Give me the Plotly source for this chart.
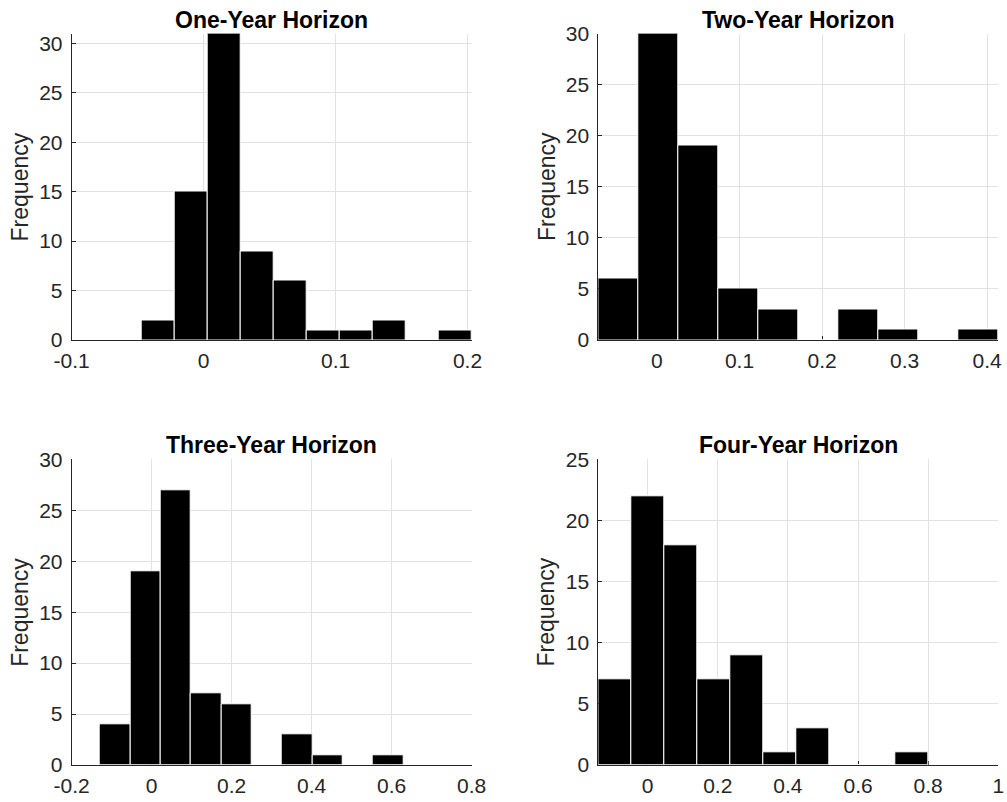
import plotly.graph_objects as go

# ---------------- data ----------------
titles = ["One-Year Horizon", "Two-Year Horizon", "Three-Year Horizon", "Four-Year Horizon"]

# bin edges (start, width) and counts for each horizon
h1_start, h1_width = -0.0468, 0.0250
h1_counts = [2, 15, 31, 9, 6, 1, 1, 2, 0, 1]

h2_start, h2_width = -0.0710, 0.04845
h2_counts = [6, 30, 19, 5, 3, 0, 3, 1, 0, 1]

h3_start, h3_width = -0.1292, 0.07584
h3_counts = [4, 19, 27, 7, 6, 0, 3, 1, 0, 1]

h4_start, h4_width = -0.1407, 0.09411
h4_counts = [7, 22, 18, 7, 9, 1, 3, 0, 0, 1]

x_ranges = [[-0.1, 0.2032], [-0.0710, 0.4135], [-0.2, 0.8], [-0.1407, 1.0]]
y_ranges = [[0, 31], [0, 30], [0, 30], [0, 25]]

x_tickvals = [[-0.1, 0, 0.1, 0.2], [0, 0.1, 0.2, 0.3, 0.4],
              [-0.2, 0, 0.2, 0.4, 0.6, 0.8], [0, 0.2, 0.4, 0.6, 0.8, 1.0]]
x_ticktext = [["-0.1", "0", "0.1", "0.2"], ["0", "0.1", "0.2", "0.3", "0.4"],
              ["-0.2", "0", "0.2", "0.4", "0.6", "0.8"], ["0", "0.2", "0.4", "0.6", "0.8", "1"]]
y_tickvals = [[0, 5, 10, 15, 20, 25, 30], [0, 5, 10, 15, 20, 25, 30],
              [0, 5, 10, 15, 20, 25, 30], [0, 5, 10, 15, 20, 25]]
y_label = "Frequency"

# ---------------- layout geometry ----------------
W, H = 1007, 802
col_px = [(71.7, 471.7), (598.3, 998.3)]
row_px = [(33.5, 340.0), (459.3, 765.0)]

FONT = "Liberation Sans, Arial, Helvetica, sans-serif"
AX = "#262626"
GRID = "#e2e2e2"

specs = [(h1_start, h1_width, h1_counts), (h2_start, h2_width, h2_counts),
         (h3_start, h3_width, h3_counts), (h4_start, h4_width, h4_counts)]

fig = go.Figure()
annotations = []
for i, (start, width, counts) in enumerate(specs):
    r, c = divmod(i, 2)
    xs = "" if i == 0 else str(i + 1)
    centers = [start + width * (k + 0.5) for k in range(len(counts))]
    fig.add_trace(go.Bar(
        x=centers, y=counts, width=[width] * len(counts),
        marker=dict(color="black", line=dict(color="white", width=1)),
        xaxis="x" + xs, yaxis="y" + xs, showlegend=False, hoverinfo="x+y",
    ))
    x0, x1 = col_px[c]
    y0, y1 = row_px[r]
    xdom = [x0 / W, x1 / W]
    ydom = [1 - y1 / H, 1 - y0 / H]
    common = dict(showline=True, linecolor=AX, linewidth=1, ticks="inside", ticklen=4,
                  tickcolor=AX, tickwidth=1, showgrid=True, gridcolor=GRID, gridwidth=1,
                  zeroline=False, layer="below traces", automargin=False,
                  tickfont=dict(family=FONT, size=21, color=AX))
    fig.layout["xaxis" + xs] = dict(domain=xdom, range=x_ranges[i], tickvals=x_tickvals[i],
                                    ticktext=x_ticktext[i], anchor="y" + xs,
                                    ticklabelstandoff=2, **common)
    fig.layout["yaxis" + xs] = dict(domain=ydom, range=y_ranges[i], tickvals=y_tickvals[i],
                                    anchor="x" + xs, ticklabelstandoff=4, **common)
    annotations.append(dict(text="<b>%s</b>" % titles[i], xref="paper", yref="paper",
                            x=(xdom[0] + xdom[1]) / 2, y=ydom[1], xanchor="center",
                            yanchor="bottom", showarrow=False, yshift=-1,
                            font=dict(family=FONT, size=23, color="black")))
    annotations.append(dict(text=y_label, xref="paper", yref="paper",
                            x=xdom[0], y=(ydom[0] + ydom[1]) / 2, xshift=-52,
                            xanchor="center", yanchor="middle", textangle=-90,
                            showarrow=False, font=dict(family=FONT, size=23, color=AX)))

fig.update_layout(width=W, height=H, margin=dict(l=0, r=0, t=0, b=0, autoexpand=False),
                  paper_bgcolor="white", plot_bgcolor="white", bargap=0,
                  template="none", annotations=annotations)

fig.write_html("out.html")
